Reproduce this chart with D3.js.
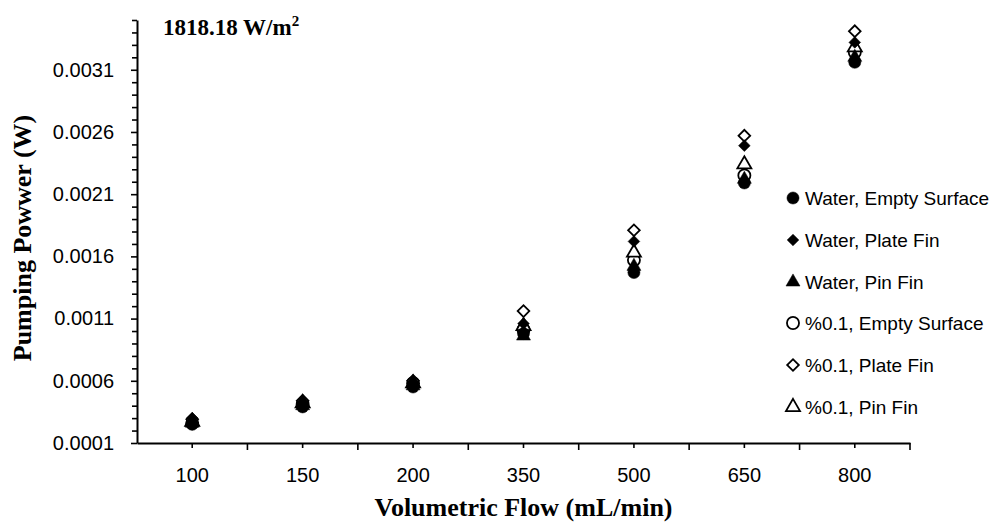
<!DOCTYPE html>
<html>
<head>
<meta charset="utf-8">
<script src="https://cdn.jsdelivr.net/npm/d3@7"></script>
<style>
  html, body { margin: 0; padding: 0; background: #fff; }
  svg { display: block; }
</style>
</head>
<body>
<svg id="chart" width="1006" height="527"></svg>
<script>
// ---------- data ----------
const categories = ["100", "150", "200", "350", "500", "650", "800"];
const seriesNames = [
  "Water, Empty Surface",
  "Water, Plate Fin",
  "Water, Pin Fin",
  "%0.1, Empty Surface",
  "%0.1, Plate Fin",
  "%0.1, Pin Fin"
];
const waterEmpty = [0.00025, 0.00039, 0.00055, 0.00098, 0.00147, 0.00219, 0.00316];
const waterPlate = [0.00030, 0.00043, 0.00059, 0.00106, 0.00172, 0.00249, 0.00332];
const waterPin   = [0.00026, 0.00040, 0.00056, 0.00096, 0.00152, 0.00222, 0.00320];
const nfEmpty    = [0.00026, 0.00041, 0.00058, 0.00101, 0.00157, 0.00225, 0.00324];
const nfPlate    = [0.00029, 0.00044, 0.00060, 0.00116, 0.00181, 0.00257, 0.00341];
const nfPin      = [0.00027, 0.00042, 0.00058, 0.00104, 0.00163, 0.00234, 0.00328];
const yMajorTicks = [0.0001, 0.0006, 0.0011, 0.0016, 0.0021, 0.0026, 0.0031];
const titleText = "1818.18 W/m";
const titleSup = "2";
const xTitle = "Volumetric Flow (mL/min)";
const yTitle = "Pumping Powwer (W)";

const series = [
  { name: seriesNames[0], values: waterEmpty, shape: "circle",   filled: true },
  { name: seriesNames[1], values: waterPlate, shape: "diamond",  filled: true },
  { name: seriesNames[2], values: waterPin,   shape: "triangle", filled: true },
  { name: seriesNames[3], values: nfEmpty,    shape: "circle",   filled: false },
  { name: seriesNames[4], values: nfPlate,    shape: "diamond",  filled: false },
  { name: seriesNames[5], values: nfPin,      shape: "triangle", filled: false }
];

// ---------- layout ----------
const plotL = 137, plotR = 910, plotT = 20, plotB = 443;
const svg = d3.select("#chart");

const x = d3.scaleBand().domain(categories).range([plotL, plotR]).padding(0);
const y = d3.scaleLinear().domain([0.0001, 0.0035]).range([plotB, plotT]);

const symbolType = { circle: d3.symbolCircle, diamond: d3.symbolSquare, triangle: d3.symbolTriangle };
const symbolSize = { circle: 115, diamond: 68, triangle: 85 };
const symbolRot = { circle: 0, diamond: 45, triangle: 0 };
function symPath(shape) { return d3.symbol().type(symbolType[shape]).size(symbolSize[shape])(); }

// ---------- axes ----------
const tickFont = "'Liberation Sans', Arial, sans-serif";

// y minor ticks
const yMinor = d3.range(1, 36).map(i => +(i * 0.0001).toFixed(4)).filter(v => !yMajorTicks.some(m => Math.abs(m - v) < 1e-9));
svg.append("g").attr("transform", `translate(${plotL},0)`)
  .call(d3.axisLeft(y).tickValues(yMinor).tickSize(5).tickFormat(""))
  .call(g => g.select(".domain").remove())
  .call(g => g.selectAll("line").attr("stroke", "#000").attr("stroke-width", 1.6));

const yAxis = svg.append("g").attr("transform", `translate(${plotL},0)`)
  .call(d3.axisLeft(y).tickValues(yMajorTicks).tickSize(6).tickSizeOuter(0).tickPadding(17).tickFormat(d3.format(".4f")));
yAxis.select(".domain").attr("stroke", "#000").attr("stroke-width", 2);
yAxis.selectAll("line").attr("stroke", "#000").attr("stroke-width", 1.6);
yAxis.selectAll("text").attr("font-family", tickFont).attr("font-size", 20).attr("fill", "#000");

// x axis: center ticks + boundary ticks
const xAxis = svg.append("g").attr("transform", `translate(0,${plotB})`)
  .call(d3.axisBottom(x).tickSize(5).tickSizeOuter(0).tickPadding(20));
xAxis.select(".domain").attr("stroke", "#000").attr("stroke-width", 2);
xAxis.selectAll("line").attr("stroke", "#000").attr("stroke-width", 1.6);
xAxis.selectAll("text").attr("font-family", tickFont).attr("font-size", 20).attr("fill", "#000");

const boundaries = categories.slice(1).map(c => x(c)).concat([x(categories[categories.length - 1]) + x.bandwidth()]);
svg.append("g").selectAll("line").data(boundaries).join("line")
  .attr("x1", d => d).attr("x2", d => d)
  .attr("y1", plotB).attr("y2", plotB + 7)
  .attr("stroke", "#000").attr("stroke-width", 1.6);

// ---------- points ----------
// open markers first, filled on top
const drawOrder = [series[3], series[4], series[5], series[0], series[1], series[2]];
drawOrder.forEach(s => {
  svg.append("g").selectAll("path").data(s.values).join("path")
    .attr("d", symPath(s.shape))
    .attr("transform", (d, i) => `translate(${x(categories[i]) + x.bandwidth() / 2},${y(d)}) rotate(${symbolRot[s.shape]})`)
    .attr("fill", s.filled ? "#000" : "#fff")
    .attr("stroke", "#000")
    .attr("stroke-width", s.filled ? 0.5 : 1.8);
});

// ---------- legend ----------
const legendY = [198, 240, 282, 323, 365, 407];
const legend = svg.append("g");
series.forEach((s, i) => {
  const g = legend.append("g").attr("transform", `translate(793,${legendY[i]})`);
  g.append("path").attr("d", symPath(s.shape))
    .attr("transform", `rotate(${symbolRot[s.shape]})`)
    .attr("fill", s.filled ? "#000" : "#fff")
    .attr("stroke", "#000").attr("stroke-width", s.filled ? 0.5 : 1.8);
  g.append("text").attr("x", 12).attr("dy", "0.35em")
    .attr("font-family", tickFont).attr("font-size", 19).attr("fill", "#000")
    .text(s.name);
});

// ---------- titles ----------
const serif = "'Liberation Serif', 'Times New Roman', serif";
const t = svg.append("text").attr("x", 163).attr("y", 35)
  .attr("font-family", serif).attr("font-weight", "bold").attr("font-size", 23).attr("fill", "#000");
t.append("tspan").text(titleText);
t.append("tspan").attr("font-size", 15).attr("dy", -9).text(titleSup);

svg.append("text").attr("x", (plotL + plotR) / 2).attr("y", 516)
  .attr("text-anchor", "middle")
  .attr("font-family", serif).attr("font-weight", "bold").attr("font-size", 26).attr("fill", "#000")
  .text(xTitle);

svg.append("text")
  .attr("transform", `translate(31,238) rotate(-90)`)
  .attr("text-anchor", "middle")
  .attr("font-family", serif).attr("font-weight", "bold").attr("font-size", 26).attr("fill", "#000")
  .text(yTitle);
</script>
</body>
</html>
